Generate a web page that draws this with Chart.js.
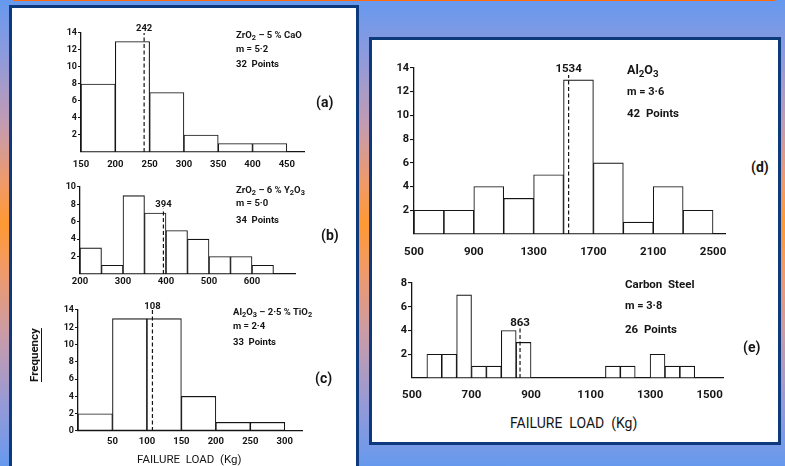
<!DOCTYPE html>
<html>
<head>
<meta charset="utf-8">
<script src="https://cdn.jsdelivr.net/npm/chart.js@4.4.1/dist/chart.umd.min.js"></script>
<style>
  html, body { margin:0; padding:0; }
  body { width:785px; height:466px; position:relative; overflow:hidden;
    background: linear-gradient(to bottom, #6699ee 0%, #8e9add 12%, #c49bb0 27%, #ef9a6a 39%, #ff9933 48%, #f19a68 58%, #c99ba8 72%, #959ad8 87%, #6699ee 100%); }
  .topline { position:absolute; left:13px; top:0; width:762px; height:1px; background:#ff6a10; }
  .panel { position:absolute; background:#fff; border:3px solid #0c3a7c; box-sizing:border-box; }
  canvas { position:absolute; }
  .lbl { position:absolute; white-space:nowrap; line-height:1; color:#151515; font-family:Roboto, "Liberation Sans", sans-serif; font-weight:700; }
  .lbl sub { font-size:0.78em; vertical-align:-0.3em; line-height:1; }
</style>
</head>
<body>
<div class="topline"></div>
<div class="panel" style="left:9px;top:5px;width:350px;height:480px;"></div>
<div class="panel" style="left:369px;top:37px;width:412px;height:408px;"></div>
<canvas id="cA"></canvas>
<canvas id="cB"></canvas>
<canvas id="cC"></canvas>
<canvas id="cD"></canvas>
<canvas id="cE"></canvas>
<script>
// ---------- data ----------
// (a) ZrO2 - 5% CaO
const binsA = [150, 200, 250, 300, 350, 400];
const countsA = [8, 13, 7, 2, 1, 1];
const binWidthA = 50;
const xTicksA = [150, 200, 250, 300, 350, 400, 450];
const yTicksA = [2, 4, 6, 8, 10, 12, 14];
const markerA = 242;

// (b) ZrO2 - 6% Y2O3
const binsB = [200, 250, 300, 350, 400, 450, 500, 550, 600];
const countsB = [3, 1, 9, 7, 5, 4, 2, 2, 1];
const binWidthB = 50;
const xTicksB = [200, 300, 400, 500, 600];
const yTicksB = [2, 4, 6, 8, 10];
const markerB = 394;

// (c) Al2O3 - 2.5% TiO2
const binsC = [0, 50, 100, 150, 200, 250];
const countsC = [2, 13, 13, 4, 1, 1];
const binWidthC = 50;
const xTicksC = [50, 100, 150, 200, 250, 300];
const yTicksC = [0, 2, 4, 6, 8, 10, 12, 14];
const markerC = 108;

// (d) Al2O3
const binsD = [500, 700, 900, 1100, 1300, 1500, 1700, 1900, 2100, 2300];
const countsD = [2, 2, 4, 3, 5, 13, 6, 1, 4, 2];
const binWidthD = 200;
const xTicksD = [500, 900, 1300, 1700, 2100, 2500];
const yTicksD = [2, 4, 6, 8, 10, 12, 14];
const markerD = 1534;

// (e) Carbon steel
const binsE = [550, 600, 650, 700, 750, 800, 850, 1150, 1200, 1300, 1350, 1400];
const countsE = [2, 2, 7, 1, 1, 4, 3, 1, 1, 2, 1, 1];
const binWidthE = 50;
const xTicksE = [500, 700, 900, 1100, 1300, 1500];
const yTicksE = [2, 4, 6, 8];
const markerE = 863;

// ---------- drawing ----------
const INK = '#151515';
const markerLabel = {
  id: 'markerLabel',
  afterDatasetsDraw(chart, args, o) {
    const {ctx, scales: {x, y}} = chart;
    ctx.save();
    ctx.font = o.font;
    ctx.fillStyle = INK;
    ctx.textAlign = 'center';
    ctx.textBaseline = 'alphabetic';
    ctx.fillText(String(o.value), x.getPixelForValue(o.value), y.getPixelForValue(o.top) - o.gap);
    ctx.restore();
  }
};

function histogram(id, s) {
  const padL = 40, padT = 20, padR = 14, padB = 28;
  const cv = document.getElementById(id);
  const a = s.area;
  cv.width = a.right - a.left + padL + padR;
  cv.height = a.bottom - a.top + padT + padB;
  cv.style.left = (a.left - padL) + 'px';
  cv.style.top = (a.top - padT) + 'px';
  const tickFont = {family: 'Roboto', size: s.fontSize, weight: 'bold'};
  new Chart(cv, {
    type: 'bar',
    data: {
      datasets: [
        {
          type: 'line',
          data: [{x: s.marker, y: 0}, {x: s.marker, y: s.markerTop}],
          borderColor: INK, borderWidth: 1.2, borderDash: [4, 2.5],
          pointRadius: 0, order: 1
        },
        {
          type: 'bar',
          data: s.bins.map((b, i) => ({x: b + s.binWidth / 2, y: s.counts[i]})),
          backgroundColor: '#ffffff', borderColor: INK, borderWidth: 1.1,
          borderSkipped: false, barPercentage: 1, categoryPercentage: 1, order: 2
        }
      ]
    },
    options: {
      responsive: false, animation: false, devicePixelRatio: 1,
      layout: {padding: {left: 0, top: padT, right: padR, bottom: 0}},
      plugins: {
        legend: {display: false}, tooltip: {enabled: false},
        markerLabel: {value: s.marker, top: s.markerTop, gap: s.markerGap,
                      font: 'bold ' + s.fontSize + 'px Roboto'}
      },
      scales: {
        x: {
          type: 'linear', min: s.xMin, max: s.xMax, offset: false,
          grid: {display: false, drawTicks: false},
          border: {display: true, color: INK, width: 1.3},
          afterBuildTicks: sc => { sc.ticks = s.xTicks.map(v => ({value: v})); },
          afterFit: sc => { sc.height = padB; },
          ticks: {padding: s.xPad, font: tickFont, color: INK, maxRotation: 0, autoSkip: false,
                  callback: v => String(v)}
        },
        y: {
          type: 'linear', min: 0, max: s.yMax,
          grid: {display: true, drawOnChartArea: false, drawTicks: true, tickLength: s.tickLen, color: INK, lineWidth: 1.1},
          border: {display: true, color: INK, width: 1.3},
          afterBuildTicks: sc => { sc.ticks = s.yTicks.map(v => ({value: v})); },
          afterFit: sc => { sc.width = padL; },
          ticks: {padding: 1, font: {family: 'Roboto', size: s.fontSize - 0.5, weight: 'bold'}, color: INK, autoSkip: false,
                  callback: v => String(v)}
        }
      }
    },
    plugins: [markerLabel]
  });
}

histogram('cA', {bins: binsA, counts: countsA, binWidth: binWidthA, xTicks: xTicksA, yTicks: yTicksA,
  marker: markerA, markerTop: 14, markerGap: 2, xMin: 150, xMax: 475, yMax: 14,
  area: {left: 81, top: 33, right: 304, bottom: 152}, fontSize: 9.5, xPad: 7, tickLen: 3});
histogram('cB', {bins: binsB, counts: countsB, binWidth: binWidthB, xTicks: xTicksB, yTicks: yTicksB,
  marker: markerB, markerTop: 7.5, markerGap: 2, xMin: 200, xMax: 700, yMax: 10,
  area: {left: 80, top: 187, right: 295, bottom: 274}, fontSize: 9.5, xPad: 2, tickLen: 3});
histogram('cC', {bins: binsC, counts: countsC, binWidth: binWidthC, xTicks: xTicksC, yTicks: yTicksC,
  marker: markerC, markerTop: 14, markerGap: 1, xMin: 0, xMax: 325, yMax: 14,
  area: {left: 78, top: 310, right: 302, bottom: 431}, fontSize: 9.5, xPad: 5, tickLen: 3});
histogram('cD', {bins: binsD, counts: countsD, binWidth: binWidthD, xTicks: xTicksD, yTicks: yTicksD,
  marker: markerD, markerTop: 13.4, markerGap: 3, xMin: 500, xMax: 2580, yMax: 14,
  area: {left: 414, top: 68, right: 725, bottom: 234}, fontSize: 11.5, xPad: 11, tickLen: 4});
histogram('cE', {bins: binsE, counts: countsE, binWidth: binWidthE, xTicks: xTicksE, yTicks: yTicksE,
  marker: markerE, markerTop: 4.3, markerGap: 1, xMin: 500, xMax: 1545, yMax: 8,
  area: {left: 412, top: 283, right: 723, bottom: 378}, fontSize: 11.5, xPad: 10, tickLen: 4});

// ---------- text labels ----------
function label(html, x, base, size, extra) {
  const d = document.createElement('div');
  d.className = 'lbl';
  d.innerHTML = html;
  d.style.left = x + 'px';
  d.style.top = (base - 0.85 * size) + 'px';
  d.style.fontSize = size + 'px';
  if (extra) Object.assign(d.style, extra);
  document.body.appendChild(d);
  return d;
}
// (a)
label('ZrO<sub>2</sub> – 5 % CaO', 236, 38, 9.5);
label('m = 5·2', 236, 52, 9.5);
label('32&nbsp; Points', 236, 67, 9.5);
label('(a)', 316, 107, 14);
// (b)
label('ZrO<sub>2</sub> – 6 % Y<sub>2</sub>O<sub>3</sub>', 236, 193, 9.5);
label('m = 5·0', 236, 206, 9.5);
label('34&nbsp; Points', 236, 223, 9.5);
label('(b)', 321, 240, 14);
// (c)
label('Al<sub>2</sub>O<sub>3</sub> – 2·5 % TiO<sub>2</sub>', 233, 315, 9.5);
label('m = 2·4', 233, 329, 9.5);
label('33&nbsp; Points', 233, 345, 9.5);
label('(c)', 315, 383, 14);
// (d)
label('Al<sub>2</sub>O<sub>3</sub>', 627, 75, 12.5);
label('m = 3·6', 627, 95, 11);
label('42&nbsp; Points', 627, 118, 11.5);
label('(d)', 751, 172, 14);
// (e)
label('Carbon&nbsp; Steel', 625, 289, 11.5);
label('m = 3·8', 625, 309, 11);
label('26&nbsp; Points', 625, 334, 11.5);
label('(e)', 743, 352, 14);
// axis titles
label('FAILURE&nbsp; LOAD&nbsp; (Kg)', 137, 464, 11.5, {fontWeight: '400'});
label('FAILURE&nbsp; LOAD&nbsp; (Kg)', 510, 428, 14, {fontWeight: '400'});
const f = label('Frequency', 35, 360, 11.5, {fontWeight: '700', textDecoration: 'underline', textUnderlineOffset: '3px'});
f.style.transformOrigin = '0 0';
f.style.left = '29px'; f.style.top = '382px';
f.style.transform = 'rotate(-90deg)';
</script>
</body>
</html>
